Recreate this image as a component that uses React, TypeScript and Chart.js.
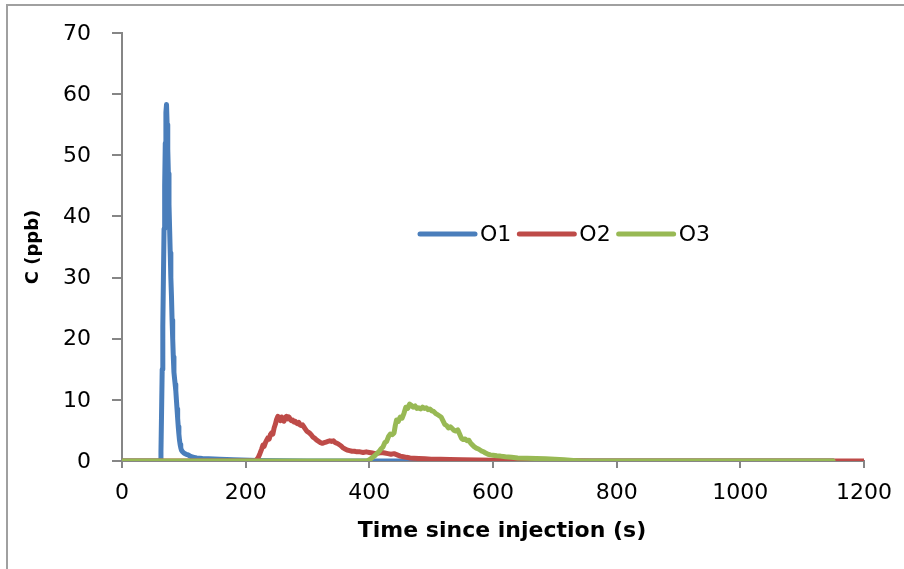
import React, { useEffect, useRef } from "react";
import { Chart, registerables } from "chart.js";

Chart.register(...registerables);

// ---- Data (time in s, concentration in ppb) ----
const SERIES_NAMES = ["O1", "O2", "O3"];
const SERIES_COLORS = ["#4A7EBB", "#BE4B48", "#98B954"];

const O1: [number, number][] = [
  [0, 0], [62, 0], [63, 1.5], [64, 8], [65, 15], [66, 22], [67, 30], [68, 38], [69, 45], [70, 52],
  [71, 57], [72, 58.3], [73, 55], [74, 51], [75, 47], [76, 42], [77, 38], [78, 34], [79, 30], [80, 27],
  [81, 23], [82, 20], [83, 17], [84, 14.5], [85, 13.5], [86, 12.5], [87, 11.5], [88, 10], [89, 8.5],
  [90, 7], [91, 5.6], [92, 4.4], [93, 3.4], [94, 2.7], [95, 2.2], [96, 1.8], [98, 1.5], [100, 1.3],
  [102, 1.2], [104, 1.1], [107, 1.0], [110, 0.8], [115, 0.6], [121, 0.5], [130, 0.4], [140, 0.35],
  [158, 0.3], [180, 0.2], [220, 0.1], [300, 0], [1150, 0],
];

const O2: [number, number][] = [
  [0, 0], [216, 0], [220, 0.5], [223, 1.2], [226, 2.0], [228, 2.6], [230, 2.4], [232, 3.0], [234, 3.4],
  [236, 3.8], [238, 3.6], [240, 4.3], [242, 4.6], [244, 4.4], [246, 5.4], [248, 6.0], [250, 6.8],
  [252, 7.3], [254, 7.0], [256, 6.6], [258, 7.2], [260, 6.9], [262, 6.5], [264, 7.1], [266, 7.3],
  [268, 6.9], [270, 7.2], [272, 6.8], [274, 6.6], [276, 6.7], [278, 6.4], [280, 6.5], [282, 6.2],
  [284, 6.1], [286, 6.3], [288, 5.9], [290, 5.8], [292, 5.9], [294, 5.6], [296, 5.3], [298, 5.0],
  [300, 4.8], [303, 4.6], [306, 4.3], [309, 3.9], [312, 3.7], [315, 3.4], [318, 3.2], [321, 3.0],
  [324, 2.9], [327, 3.0], [330, 3.1], [333, 3.2], [336, 3.3], [339, 3.2], [342, 3.3], [345, 3.0],
  [348, 2.9], [351, 2.7], [354, 2.5], [357, 2.2], [360, 2.0], [364, 1.8], [368, 1.7], [372, 1.6],
  [376, 1.6], [380, 1.5], [385, 1.5], [390, 1.4], [395, 1.5], [400, 1.4], [405, 1.3], [410, 1.2],
  [415, 1.3], [420, 1.4], [425, 1.3], [430, 1.2], [435, 1.1], [440, 1.2], [445, 1.0], [450, 0.8],
  [455, 0.7], [460, 0.6], [466, 0.5], [472, 0.45], [480, 0.4], [490, 0.35], [500, 0.3], [515, 0.27],
  [530, 0.24], [550, 0.2], [575, 0.15], [600, 0.12], [640, 0.08], [680, 0.05], [720, 0.03],
  [760, 0], [1200, 0],
];

const O3: [number, number][] = [
  [0, 0], [396, 0], [400, 0.2], [404, 0.5], [408, 0.8], [412, 1.2], [416, 1.6], [419, 2.0], [422, 2.3],
  [425, 3.0], [428, 3.2], [431, 4.0], [434, 4.4], [437, 4.3], [440, 4.6], [442, 5.8], [444, 6.7],
  [447, 6.5], [450, 7.2], [453, 7.0], [456, 7.8], [459, 8.8], [462, 8.6], [465, 9.3], [468, 9.1],
  [471, 8.8], [474, 9.0], [477, 8.6], [480, 8.7], [483, 8.5], [486, 8.8], [489, 8.6], [492, 8.7],
  [495, 8.4], [498, 8.5], [501, 8.2], [504, 8.1], [507, 7.8], [510, 7.6], [513, 7.4], [516, 7.2],
  [519, 6.6], [522, 6.0], [525, 5.8], [528, 5.4], [531, 5.6], [534, 5.3], [537, 5.0], [540, 4.9],
  [543, 5.1], [546, 4.4], [549, 3.7], [552, 3.5], [555, 3.6], [558, 3.3], [561, 3.4], [564, 2.9],
  [567, 2.6], [570, 2.3], [573, 2.1], [576, 2.0], [579, 1.8], [582, 1.6], [585, 1.5], [588, 1.3],
  [592, 1.1], [596, 1.0], [600, 0.95], [606, 0.85], [612, 0.8], [620, 0.7], [630, 0.6], [640, 0.5],
  [655, 0.45], [670, 0.4], [685, 0.35], [700, 0.3], [715, 0.2], [730, 0.1], [745, 0], [1150, 0],
];

const SERIES_DATA = [O1, O2, O3];

const X_TICKS = [0, 200, 400, 600, 800, 1000, 1200];
const Y_TICKS = [0, 10, 20, 30, 40, 50, 60, 70];
const X_TITLE = "Time since injection (s)";
const Y_TITLE = "C (ppb)";

const FONT = "'DejaVu Sans', 'Liberation Sans', sans-serif";
const AXIS_GRAY = "#868686";
const LINE_W = 5;

const borderPlugin = {
  id: "outerBorder",
  beforeDraw(chart: any) {
    const { ctx, width, height } = chart;
    ctx.save();
    ctx.strokeStyle = "#a0a0a0";
    ctx.lineWidth = 2;
    ctx.beginPath();
    ctx.moveTo(7, height + 5);
    ctx.lineTo(7, 5);
    ctx.lineTo(width + 5, 5);
    ctx.stroke();
    ctx.restore();
  },
};

// Tick marks, tick labels and x title, positioned through the chart's scales
const axisPlugin = {
  id: "axisDecor",
  afterDraw(chart: any) {
    const { ctx, chartArea, scales } = chart;
    ctx.save();
    ctx.strokeStyle = AXIS_GRAY;
    ctx.lineWidth = 2;
    ctx.beginPath();
    Y_TICKS.forEach((v) => {
      const py = Math.round(scales.y.getPixelForValue(v));
      ctx.moveTo(chartArea.left - 10, py);
      ctx.lineTo(chartArea.left, py);
    });
    X_TICKS.forEach((v) => {
      const px = Math.round(scales.x.getPixelForValue(v));
      ctx.moveTo(px, chartArea.bottom);
      ctx.lineTo(px, chartArea.bottom + 7);
    });
    ctx.stroke();

    ctx.fillStyle = "#000";
    ctx.font = `22px ${FONT}`;
    ctx.textAlign = "right";
    ctx.textBaseline = "middle";
    Y_TICKS.forEach((v) => {
      ctx.fillText(String(v), chartArea.left - 31, scales.y.getPixelForValue(v) + 1);
    });
    ctx.textAlign = "center";
    X_TICKS.forEach((v) => {
      ctx.fillText(String(v), scales.x.getPixelForValue(v), chartArea.bottom + 32);
    });

    ctx.font = `bold 22px ${FONT}`;
    ctx.fillText(X_TITLE, (chartArea.left + chartArea.right) / 2 + 9, chartArea.bottom + 70);
    ctx.restore();
  },
};

const legendPlugin = {
  id: "inlineLegend",
  afterDatasetsDraw(chart: any) {
    const { ctx, chartArea } = chart;
    const x0 = chartArea.left + 298;
    const y = chartArea.top + 201;
    ctx.save();
    ctx.font = `22px ${FONT}`;
    ctx.textBaseline = "middle";
    ctx.textAlign = "left";
    let x = x0;
    SERIES_NAMES.forEach((name, i) => {
      ctx.strokeStyle = SERIES_COLORS[i];
      ctx.lineWidth = LINE_W;
      ctx.lineCap = "round";
      ctx.beginPath();
      ctx.moveTo(x, y);
      ctx.lineTo(x + 55, y);
      ctx.stroke();
      x += 60;
      ctx.fillStyle = "#000";
      ctx.fillText(name, x, y + 1);
      x += ctx.measureText(name).width + 8;
    });
    ctx.restore();
  },
};

export default function App() {
  const canvasRef = useRef<HTMLCanvasElement | null>(null);

  useEffect(() => {
    document.body.style.margin = "0";
    document.body.style.overflow = "hidden";
    const canvas = canvasRef.current;
    if (!canvas) return;
    const order = [2, 1, 0];
    const chart = new Chart(canvas, {
      type: "line",
      data: {
        datasets: SERIES_NAMES.map((name, i) => ({
          label: name,
          data: SERIES_DATA[i].map(([t, c]) => ({ x: t, y: c })),
          borderColor: SERIES_COLORS[i],
          backgroundColor: SERIES_COLORS[i],
          borderWidth: LINE_W,
          pointRadius: 0,
          pointHoverRadius: 0,
          tension: 0,
          fill: false,
          borderJoinStyle: "round" as const,
          borderCapStyle: "round" as const,
          order: order[i],
        })),
      },
      options: {
        animation: false,
        responsive: false,
        devicePixelRatio: 1,
        elements: { line: { borderWidth: LINE_W } },
        layout: { padding: { left: 0, right: 40, top: 33, bottom: 0 } },
        plugins: {
          legend: { display: false },
          tooltip: { enabled: false },
        },
        scales: {
          x: {
            type: "linear",
            min: X_TICKS[0],
            max: X_TICKS[X_TICKS.length - 1],
            ticks: { display: false },
            grid: { display: false },
            border: { display: true, color: AXIS_GRAY, width: 2 },
            afterFit(scale: any) {
              scale.height = 108;
            },
          },
          y: {
            type: "linear",
            min: Y_TICKS[0],
            max: Y_TICKS[Y_TICKS.length - 1],
            ticks: { display: false },
            grid: { display: false },
            border: { display: true, color: AXIS_GRAY, width: 2 },
            title: {
              display: true,
              text: Y_TITLE,
              color: "#000",
              font: { family: FONT, size: 18, weight: "bold" },
              padding: { top: 23, bottom: 0 },
            },
            afterFit(scale: any) {
              scale.width = 122;
            },
          },
        },
      },
      plugins: [borderPlugin, axisPlugin, legendPlugin],
    });
    return () => chart.destroy();
  }, []);

  return (
    <div style={{ width: 904, height: 569, position: "relative", background: "#fff" }}>
      <canvas ref={canvasRef} width={904} height={569} style={{ display: "block", width: 904, height: 569 }} />
    </div>
  );
}
